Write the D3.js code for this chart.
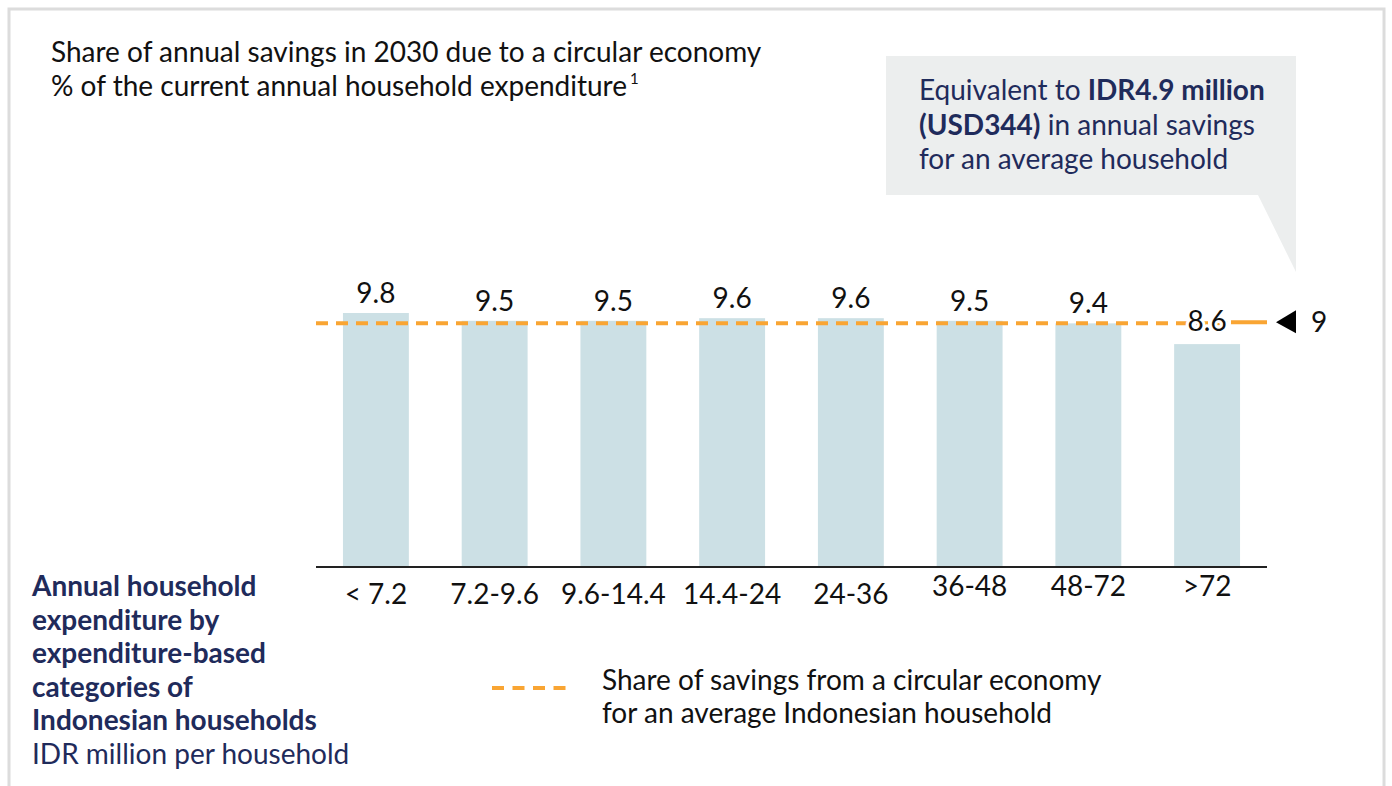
<!DOCTYPE html>
<html>
<head>
<meta charset="utf-8">
<script src="https://cdn.jsdelivr.net/npm/d3@7"></script>
<style>
  body { margin:0; background:#fff; }
  svg { font-family: Lato, "Open Sans", sans-serif; }
</style>
</head>
<body>
<svg width="1392" height="786"></svg>
<script>
// data
var categories = ["< 7.2","7.2-9.6","9.6-14.4","14.4-24","24-36","36-48","48-72",">72"];
var shares = [9.8, 9.5, 9.5, 9.6, 9.6, 9.5, 9.4, 8.6];
var labelShift = [0, 0, 0, 0, 0, -8, -8, -8]; // tick labels sit a bit higher on the right
var avgShare = 9.4;      // where the dashed average line is drawn
var avgLabel = "9";

var svg = d3.select("svg");
var navy = "#1f2b5b", orange = "#f9a533", barColor = "#cce0e5";
var fs = 28;

// frame
svg.append("rect")
  .attr("x",9).attr("y",9).attr("width",1375).attr("height",800)
  .attr("fill","none").attr("stroke","#dcdcdc").attr("stroke-width",3);

// title
svg.append("text").attr("x",51).attr("y",62)
  .attr("font-size",fs).attr("fill","#111")
  .text("Share of annual savings in 2030 due to a circular economy");
var t2 = svg.append("text").attr("x",51).attr("y",96)
  .attr("font-size",fs).attr("fill","#111");
t2.append("tspan").text("% of the current annual household expenditure");
t2.append("tspan").attr("font-size",15).attr("dy",-12).attr("dx",3).text("1");

// callout
svg.append("path")
  .attr("d","M886,56 H1296 V272 L1258,195 H886 Z")
  .attr("fill","#eceeee");
var callLines = [
  [["Equivalent to ",400],["IDR4.9 million",700]],
  [["(USD344)",700],[" in annual savings",400]],
  [["for an average household",400]]
];
callLines.forEach(function(line,i){
  var t = svg.append("text").attr("x",919).attr("y",100+i*34.5)
    .attr("font-size",fs).attr("fill",navy);
  line.forEach(function(p){
    t.append("tspan").attr("font-weight",p[1]).text(p[0]);
  });
});

// scales
var x = d3.scaleBand()
  .domain(categories)
  .range([316,1267])
  .paddingInner(0.445)
  .paddingOuter(0.227);
var y = d3.scaleLinear()
  .domain([0,9.8])
  .range([567,313]);

// bars
svg.selectAll(".bar")
  .data(shares)
  .enter()
  .append("rect")
  .attr("class","bar")
  .attr("x",function(d,i){ return x(categories[i]); })
  .attr("y",function(d){ return y(d); })
  .attr("width",x.bandwidth())
  .attr("height",function(d){ return y(0)-y(d); })
  .attr("fill",barColor);

// average dashed line
svg.append("line")
  .attr("x1",316).attr("x2",1231)
  .attr("y1",y(avgShare)).attr("y2",y(avgShare))
  .attr("stroke",orange).attr("stroke-width",4)
  .attr("stroke-dasharray","12,8");
svg.append("line")
  .attr("x1",1231).attr("x2",1267)
  .attr("y1",y(avgShare)-1).attr("y2",y(avgShare)-1)
  .attr("stroke",orange).attr("stroke-width",4);

// value labels
svg.selectAll(".val")
  .data(shares)
  .enter()
  .append("text")
  .attr("class","val")
  .attr("x",function(d,i){ return x(categories[i])+x.bandwidth()/2; })
  .attr("y",function(d){ return Math.min(y(d)-10, 331); })
  .attr("text-anchor","middle")
  .attr("font-size",fs)
  .attr("fill","#111")
  .attr("stroke","#fff").attr("stroke-width",6)
  .attr("paint-order","stroke")
  .text(function(d){ return d.toFixed(1); });

// average marker
var ay = y(avgShare)-1;
svg.append("path")
  .attr("d","M1276,"+ay+" L1296,"+(ay-12)+" L1296,"+(ay+11)+" Z")
  .attr("fill","#000");
svg.append("text").attr("x",1311).attr("y",ay+10)
  .attr("font-size",fs).attr("fill","#111").text(avgLabel);

// x axis
var xAxis = d3.axisBottom(x).tickSize(0).tickPadding(0);
var ax = svg.append("g")
  .attr("transform","translate(0,"+y(0)+")")
  .call(xAxis);
ax.select(".domain").attr("stroke","#222").attr("stroke-width",2).attr("d","M316,0H1267");
ax.selectAll(".tick text")
  .attr("font-family","Lato, sans-serif")
  .attr("font-size",fs)
  .attr("fill","#111")
  .attr("dy",null)
  .attr("y",function(d,i){ return 37+labelShift[i]; });

// left axis title
var leftLines = [
  ["Annual household",700],["expenditure by",700],["expenditure-based",700],
  ["categories of",700],["Indonesian households",700],["IDR million per household",400]
];
svg.selectAll(".lt")
  .data(leftLines)
  .enter()
  .append("text")
  .attr("x",32)
  .attr("y",function(d,i){ return 596+i*33.5; })
  .attr("font-size",fs)
  .attr("font-weight",function(d){ return d[1]; })
  .attr("fill",navy)
  .text(function(d){ return d[0]; });

// legend
svg.append("line")
  .attr("x1",492).attr("x2",566).attr("y1",688).attr("y2",688)
  .attr("stroke",orange).attr("stroke-width",4)
  .attr("stroke-dasharray","12,8.5");
svg.append("text").attr("x",602).attr("y",690)
  .attr("font-size",fs).attr("fill","#111")
  .text("Share of savings from a circular economy");
svg.append("text").attr("x",602).attr("y",723)
  .attr("font-size",fs).attr("fill","#111")
  .text("for an average Indonesian household");
</script>
</body>
</html>
